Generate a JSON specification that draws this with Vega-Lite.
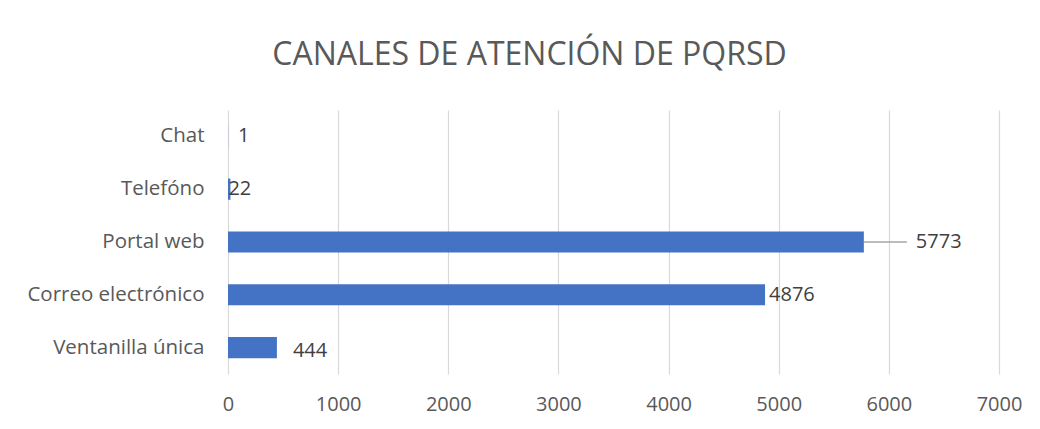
{
  "$schema": "https://vega.github.io/schema/vega-lite/v6.json",
  "width": 771,
  "height": 264,
  "autosize": {"type": "none"},
  "padding": {"left": 228, "top": 110, "right": 41, "bottom": 55},
  "background": "white",
  "config": {
    "font": "Open Sans",
    "view": {"stroke": null}
  },
  "title": {
    "text": "CANALES DE ATENCIÓN DE PQRSD",
    "font": "Open Sans",
    "fontSize": 32,
    "fontWeight": "normal",
    "color": "#595959",
    "anchor": "middle",
    "frame": "group",
    "dx": -84,
    "offset": 38
  },
  "data": {
    "values": [
      {"canal": "Chat", "valor": 1},
      {"canal": "Telefóno", "valor": 22},
      {"canal": "Portal web", "valor": 5773},
      {"canal": "Correo electrónico", "valor": 4876},
      {"canal": "Ventanilla única", "valor": 444}
    ]
  },
  "encoding": {
    "y": {
      "field": "canal",
      "type": "nominal",
      "sort": null,
      "scale": {"paddingInner": 0.6, "paddingOuter": 0.3},
      "axis": {
        "title": null,
        "domain": false,
        "ticks": false,
        "labelPadding": 24,
        "labelFont": "Open Sans",
        "labelFontSize": 20.5,
        "labelColor": "#595959"
      }
    },
    "x": {
      "field": "valor",
      "type": "quantitative",
      "scale": {"domain": [0, 7000], "nice": false},
      "axis": {
        "title": null,
        "values": [0, 1000, 2000, 3000, 4000, 5000, 6000, 7000],
        "format": "d",
        "labelFlush": false,
        "labelOverlap": false,
        "domain": false,
        "ticks": false,
        "grid": true,
        "gridColor": "#d9d9d9",
        "gridWidth": 1.2,
        "labelPadding": 20,
        "labelFont": "Open Sans",
        "labelFontSize": 20,
        "labelColor": "#595959"
      }
    }
  },
  "layer": [
    {"mark": {"type": "bar", "color": "#4472C4"}},
    {
      "transform": [{"filter": "datum.canal === 'Portal web'"}],
      "mark": {"type": "rule", "color": "#a6a6a6", "strokeWidth": 1.5, "x2Offset": 43},
      "encoding": {"x2": {"field": "valor"}}
    },
    {
      "transform": [{"filter": "datum.canal === 'Chat'"}],
      "mark": {"type": "text", "align": "left", "baseline": "middle", "dx": 10, "fontSize": 20, "color": "#404040"},
      "encoding": {"text": {"field": "valor"}}
    },
    {
      "transform": [{"filter": "datum.canal === 'Telefóno'"}],
      "mark": {"type": "text", "align": "left", "baseline": "middle", "dx": -2, "fontSize": 20, "color": "#404040"},
      "encoding": {"text": {"field": "valor"}}
    },
    {
      "transform": [{"filter": "datum.canal === 'Portal web'"}],
      "mark": {"type": "text", "align": "left", "baseline": "middle", "dx": 52, "fontSize": 20, "color": "#404040"},
      "encoding": {"text": {"field": "valor"}}
    },
    {
      "transform": [{"filter": "datum.canal === 'Correo electrónico'"}],
      "mark": {"type": "text", "align": "left", "baseline": "middle", "dx": 4, "fontSize": 20, "color": "#404040"},
      "encoding": {"text": {"field": "valor"}}
    },
    {
      "transform": [{"filter": "datum.canal === 'Ventanilla única'"}],
      "mark": {"type": "text", "align": "left", "baseline": "middle", "dx": 16, "dy": 3, "fontSize": 20, "color": "#404040"},
      "encoding": {"text": {"field": "valor"}}
    }
  ]
}
